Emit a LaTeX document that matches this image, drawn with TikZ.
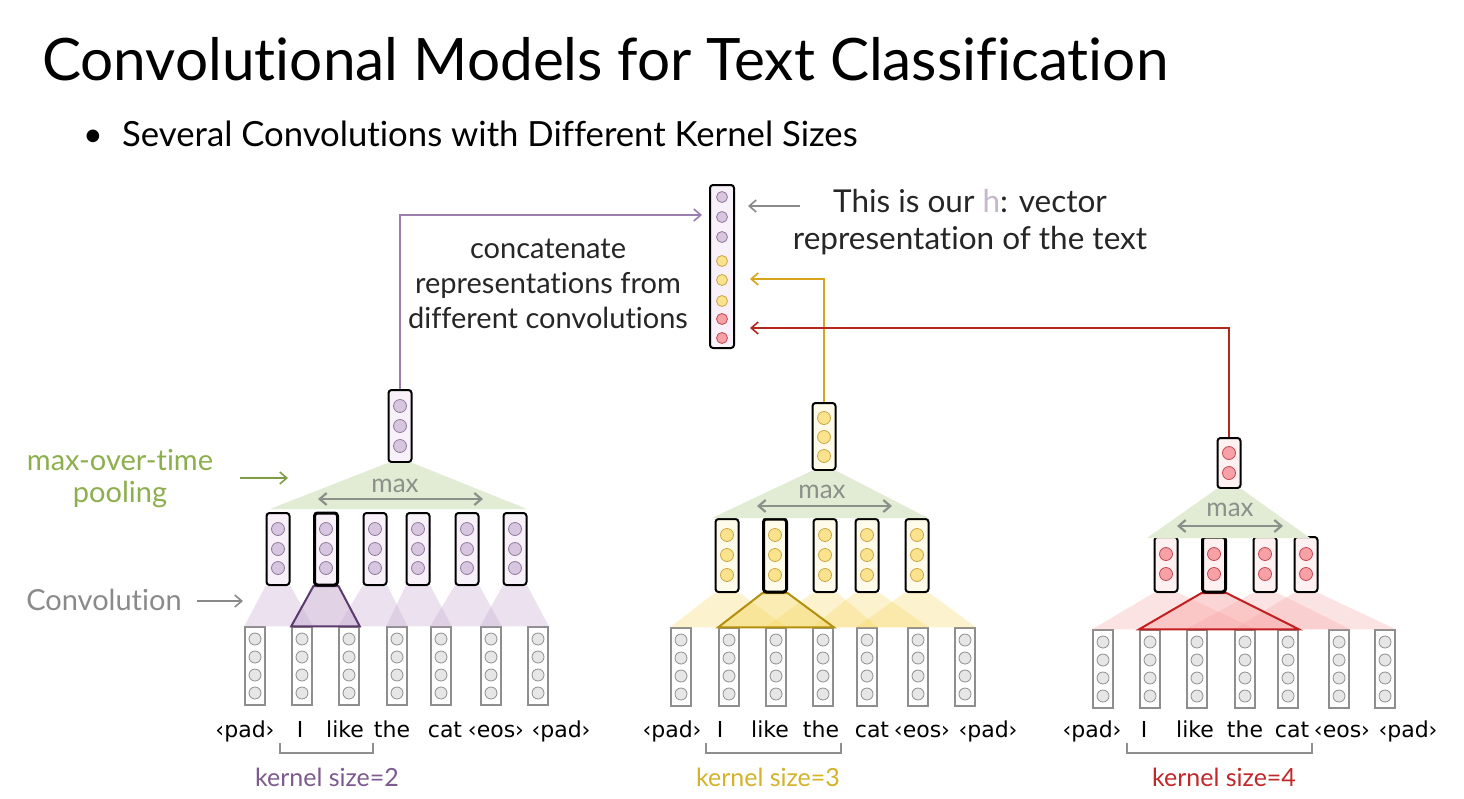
\documentclass[tikz,border=0pt]{standalone}
\usepackage{fontspec}
\setmainfont{Lato}[Ligatures=NoCommon]
\newfontfamily\wordfont{DejaVu Sans}
\usetikzlibrary{arrows.meta}
\definecolor{pcirc}{HTML}{D8C5DF}
\definecolor{pcircd}{HTML}{8F7B9A}
\definecolor{pbox}{HTML}{F8F1F9}
\definecolor{pline}{HTML}{9C7DB0}
\definecolor{pdark}{HTML}{5B3B6B}
\definecolor{ptri}{HTML}{C9AED3}
\definecolor{ycirc}{HTML}{FBE38E}
\definecolor{ycircd}{HTML}{C9A645}
\definecolor{ybox}{HTML}{FFFBEB}
\definecolor{yline}{HTML}{D8A41B}
\definecolor{ydark}{HTML}{B38F0E}
\definecolor{ytri}{HTML}{F7D75A}
\definecolor{rcirc}{HTML}{F7A0A5}
\definecolor{rcircd}{HTML}{C14750}
\definecolor{rbox}{HTML}{FFF0F1}
\definecolor{rline}{HTML}{B3281C}
\definecolor{rdark}{HTML}{C22020}
\definecolor{rtri}{HTML}{F8A3A3}
\definecolor{gtri}{HTML}{E2ECD4}
\definecolor{graytxt}{HTML}{8A8A8A}
\definecolor{maxc}{HTML}{8B918A}
\definecolor{greentxt}{HTML}{8DAF4E}
\definecolor{kp}{HTML}{7D5A8F}
\definecolor{ky}{HTML}{D4B22A}
\definecolor{kr}{HTML}{C0282B}
\definecolor{icirc}{HTML}{E6E6E6}
\definecolor{iline}{HTML}{8E8E8E}
\tikzset{
  vbox/.style={draw=black, line width=2pt, rounded corners=3pt, minimum width=23pt, inner sep=0pt},
  hlbox/.style={vbox, line width=3pt},
  ibox/.style={draw=iline, line width=1.5pt, fill=white, minimum width=20pt, minimum height=78pt, inner sep=0pt},
  icircle/.style={draw=iline, fill=icirc, line width=0.8pt},
  barb/.style={-{Straight Barb[length=7pt,width=12pt]}},
  conn/.style={barb, line width=1.6pt},
  maxarrow/.style={{Straight Barb[length=7pt,width=12pt]}-{Straight Barb[length=7pt,width=12pt]}, line width=2.2pt, draw=maxc},
  word/.style={font=\wordfont\fontsize{22}{26}\selectfont, anchor=base, inner sep=0pt},
  brack/.style={draw=iline, line width=1.3pt},
  ktext/.style={font=\fontsize{25}{30}\selectfont, anchor=base},
  maxtext/.style={font=\fontsize{26}{30}\selectfont, text=maxc},
}
\begin{document}
\begin{tikzpicture}[x=1pt,y=-1pt]
\fill[white] (0,0) rectangle (1464,798);
\useasboundingbox (0,0) rectangle (1464,798);

% title
\node[anchor=base west, inner sep=0pt, font=\fontsize{58.5}{68}\selectfont] (title) at (42,80) {Convolutional Models for Text Classification};
\node[anchor=base, inner sep=0pt, font=\fontsize{34}{40}\selectfont] (dot) at (93,146) {•};
\node[anchor=base west, inner sep=0pt, font=\fontsize{34.7}{40}\selectfont] (bullet) at (122,146) {Several Convolutions with Different Kernel Sizes};

% ---------------- h vector
\node[vbox, fill=pbox, minimum width=24pt, minimum height=163pt] (h) at (722,266.5) {};
\foreach \cy in {197,217,237} \draw[draw=pcircd, fill=pcirc, line width=0.8pt] (722,\cy) circle (5.5pt);
\foreach \cy in {261,280,301} \draw[draw=ycircd, fill=ycirc, line width=0.8pt] (722,\cy) circle (5.5pt);
\foreach \cy in {319,338} \draw[draw=rcircd, fill=rcirc, line width=0.8pt] (722,\cy) circle (5.5pt);

\node[align=center, font=\fontsize{31.5}{37}\selectfont, text=black!85] (htext) at (970,222) {This is our \textcolor{pcirc!80!gray}{h}: vector\\representation of the text};
\coordinate (hgs) at (800,206);
\coordinate (hg) at (748,206);
\draw[barb, line width=1.6pt, draw=graytxt] (hgs) -- (hg);

\node[align=center, font=\fontsize{29}{35}\selectfont, text=black!85] (concat) at (548,284) {concatenate\\representations from\\different convolutions};

% ---------------- purple group (kernel 2)
\foreach \i/\x in {1/255,2/302,3/349,4/397,5/441,6/491,7/538} {
  \node[ibox] (pi\i) at (\x,666) {};
  \foreach \cy in {639,657,675,693} \draw[icircle] (\x,\cy) circle (6pt);
}
\foreach \i/\x in {1/278,2/326,3/375,4/418,5/467,6/515} {
  \node[vbox, fill=pbox, minimum height=72pt] (pc\i) at (\x,549) {};
}
\foreach \i/\j in {1/2,3/4,4/5,5/6,6/7}
  \fill[ptri, fill opacity=0.35] (pc\i.south west) -- (pc\i.south east) -- (pi\j.north east) -- (pi\i.north west) -- cycle;
\filldraw[fill=ptri, fill opacity=0.55, draw=pdark, line width=2pt] (pc2.south west) -- (pc2.south east) -- (pi3.north east) -- (pi2.north west) -- cycle;
\node[hlbox, fill=pbox, minimum height=72pt] at (326,549) {};
\foreach \x in {278,326,375,418,467,515}
  \foreach \cy in {529,549,568} \draw[draw=pcircd, fill=pcirc, line width=0.8pt] (\x,\cy) circle (6.5pt);
\node[vbox, fill=pbox, minimum height=72pt] (pp) at (400,426) {};
\foreach \cy in {406,426,446} \draw[draw=pcircd, fill=pcirc, line width=0.8pt] (400,\cy) circle (6.5pt);
\fill[gtri] (pp.south west) -- (pp.south east) -- (527,509) -- (270,509) -- cycle;
\node[maxtext] (pmax) at (395,486) {max};
\coordinate (pma) at (318,499);
\coordinate (pmb) at (483,499);
\draw[maxarrow] (pma) -- (pmb);

\foreach \w/\x in {{‹pad›}/245,I/300,like/345,the/392,cat/445,{‹eos›}/496,{‹pad›}/561}
  \node[word] at (\x,737) {\w};
\draw[brack] (280,743) -- (280,753) -- (373,753) -- (373,743);
\node[ktext, text=kp] (kp) at (327,786) {kernel size=2};

% ---------------- yellow group (kernel 3)
\foreach \i/\x in {1/681,2/729,3/776,4/823,5/867,6/918,7/965} {
  \node[ibox] (yi\i) at (\x,667) {};
  \foreach \cy in {640,658,676,694} \draw[icircle] (\x,\cy) circle (6pt);
}
\foreach \i/\x in {1/727,2/775,3/825,4/867,5/917} {
  \node[vbox, fill=ybox, minimum height=73pt] (yc\i) at (\x,555.5) {};
}
\foreach \i/\j in {1/3,3/5,4/6,5/7}
  \fill[ytri, fill opacity=0.3] (yc\i.south west) -- (yc\i.south east) -- (yi\j.north east) -- (yi\i.north west) -- cycle;
\filldraw[fill=ytri, fill opacity=0.45, draw=ydark, line width=2pt] (yc2.south west) -- (yc2.south east) -- (yi4.north east) -- (yi2.north west) -- cycle;
\node[hlbox, fill=ybox, minimum height=73pt] at (775,555.5) {};
\foreach \x in {727,775,825,867,917}
  \foreach \cy in {535,555,575} \draw[draw=ycircd, fill=ycirc, line width=0.8pt] (\x,\cy) circle (6.5pt);
\node[vbox, fill=ybox, minimum height=67pt] (yp) at (824,436.5) {};
\foreach \cy in {418,437,456} \draw[draw=ycircd, fill=ycirc, line width=0.8pt] (824,\cy) circle (6.5pt);
\fill[gtri] (yp.south west) -- (yp.south east) -- (928,518) -- (712,518) -- cycle;
\node[maxtext] (ymax) at (822,492) {max};
\coordinate (yma) at (757,506);
\coordinate (ymb) at (892,506);
\draw[maxarrow] (yma) -- (ymb);

\foreach \w/\x in {{‹pad›}/672,I/720,like/770,the/821,cat/872,{‹eos›}/922,{‹pad›}/988}
  \node[word] at (\x,737) {\w};
\draw[brack] (706,743) -- (706,753) -- (841,753) -- (841,743);
\node[ktext, text=ky] (ky) at (768,786) {kernel size=3};

% ---------------- red group (kernel 4)
\foreach \i/\x in {1/1103,2/1150,3/1197,4/1245,5/1288,6/1339,7/1385} {
  \node[ibox] (ri\i) at (\x,669) {};
  \foreach \cy in {642,660,678,696} \draw[icircle] (\x,\cy) circle (6pt);
}
\foreach \i/\x in {1/1166,2/1214,3/1265,4/1306} {
  \node[vbox, fill=rbox, minimum height=55pt] (rc\i) at (\x,564.5) {};
}
\foreach \i/\j in {1/4,3/6,4/7}
  \fill[rtri, fill opacity=0.3] (rc\i.south west) -- (rc\i.south east) -- (ri\j.north east) -- (ri\i.north west) -- cycle;
\filldraw[fill=rtri, fill opacity=0.45, draw=rdark, line width=2pt] (rc2.south west) -- (rc2.south east) -- (ri5.north east) -- (ri2.north west) -- cycle;
\node[hlbox, fill=rbox, minimum height=55pt] at (1214,564.5) {};
\foreach \x in {1166,1214,1265,1306}
  \foreach \cy in {554,574} \draw[draw=rcircd, fill=rcirc, line width=0.8pt] (\x,\cy) circle (6.5pt);
\node[vbox, fill=rbox, minimum height=50pt] (rp) at (1229,463) {};
\foreach \cy in {453,473} \draw[draw=rcircd, fill=rcirc, line width=0.8pt] (1229,\cy) circle (6.5pt);
\fill[gtri] (rp.south west) -- (rp.south east) -- (1310,538) -- (1147,538) -- cycle;
\node[maxtext] (rmax) at (1230,510) {max};
\coordinate (rma) at (1177,526);
\coordinate (rmb) at (1283,526);
\draw[maxarrow] (rma) -- (rmb);

\foreach \w/\x in {{‹pad›}/1092,I/1144,like/1195,the/1245,cat/1292,{‹eos›}/1342,{‹pad›}/1408}
  \node[word] at (\x,737) {\w};
\draw[brack] (1127,743) -- (1127,753) -- (1312,753) -- (1312,743);
\node[ktext, text=kr] (kr) at (1224,786) {kernel size=4};

% ---------------- connectors to h
\coordinate (hp) at (702,215);
\coordinate (hy) at (750,279);
\coordinate (hr) at (750,328);
\draw[conn, draw=pline] (pp.north) |- (hp);
\draw[conn, draw=yline] (yp.north) |- (hy);
\draw[conn, draw=rline] (rp.north) |- (hr);

% ---------------- left labels
\node[align=center, font=\fontsize{29}{32}\selectfont, text=greentxt] (mot) at (120,479) {max-over-time\\pooling};
\coordinate (mota) at (288,478);
\draw[barb, line width=1.6pt, draw=greentxt!90!black] (240,478) -- (mota);
\node[font=\fontsize{29}{34}\selectfont, text=graytxt] (convl) at (104,600) {Convolution};
\coordinate (conva) at (243,601);
\draw[barb, line width=1.6pt, draw=graytxt] (197,601) -- (conva);
\end{tikzpicture}
\end{document}
